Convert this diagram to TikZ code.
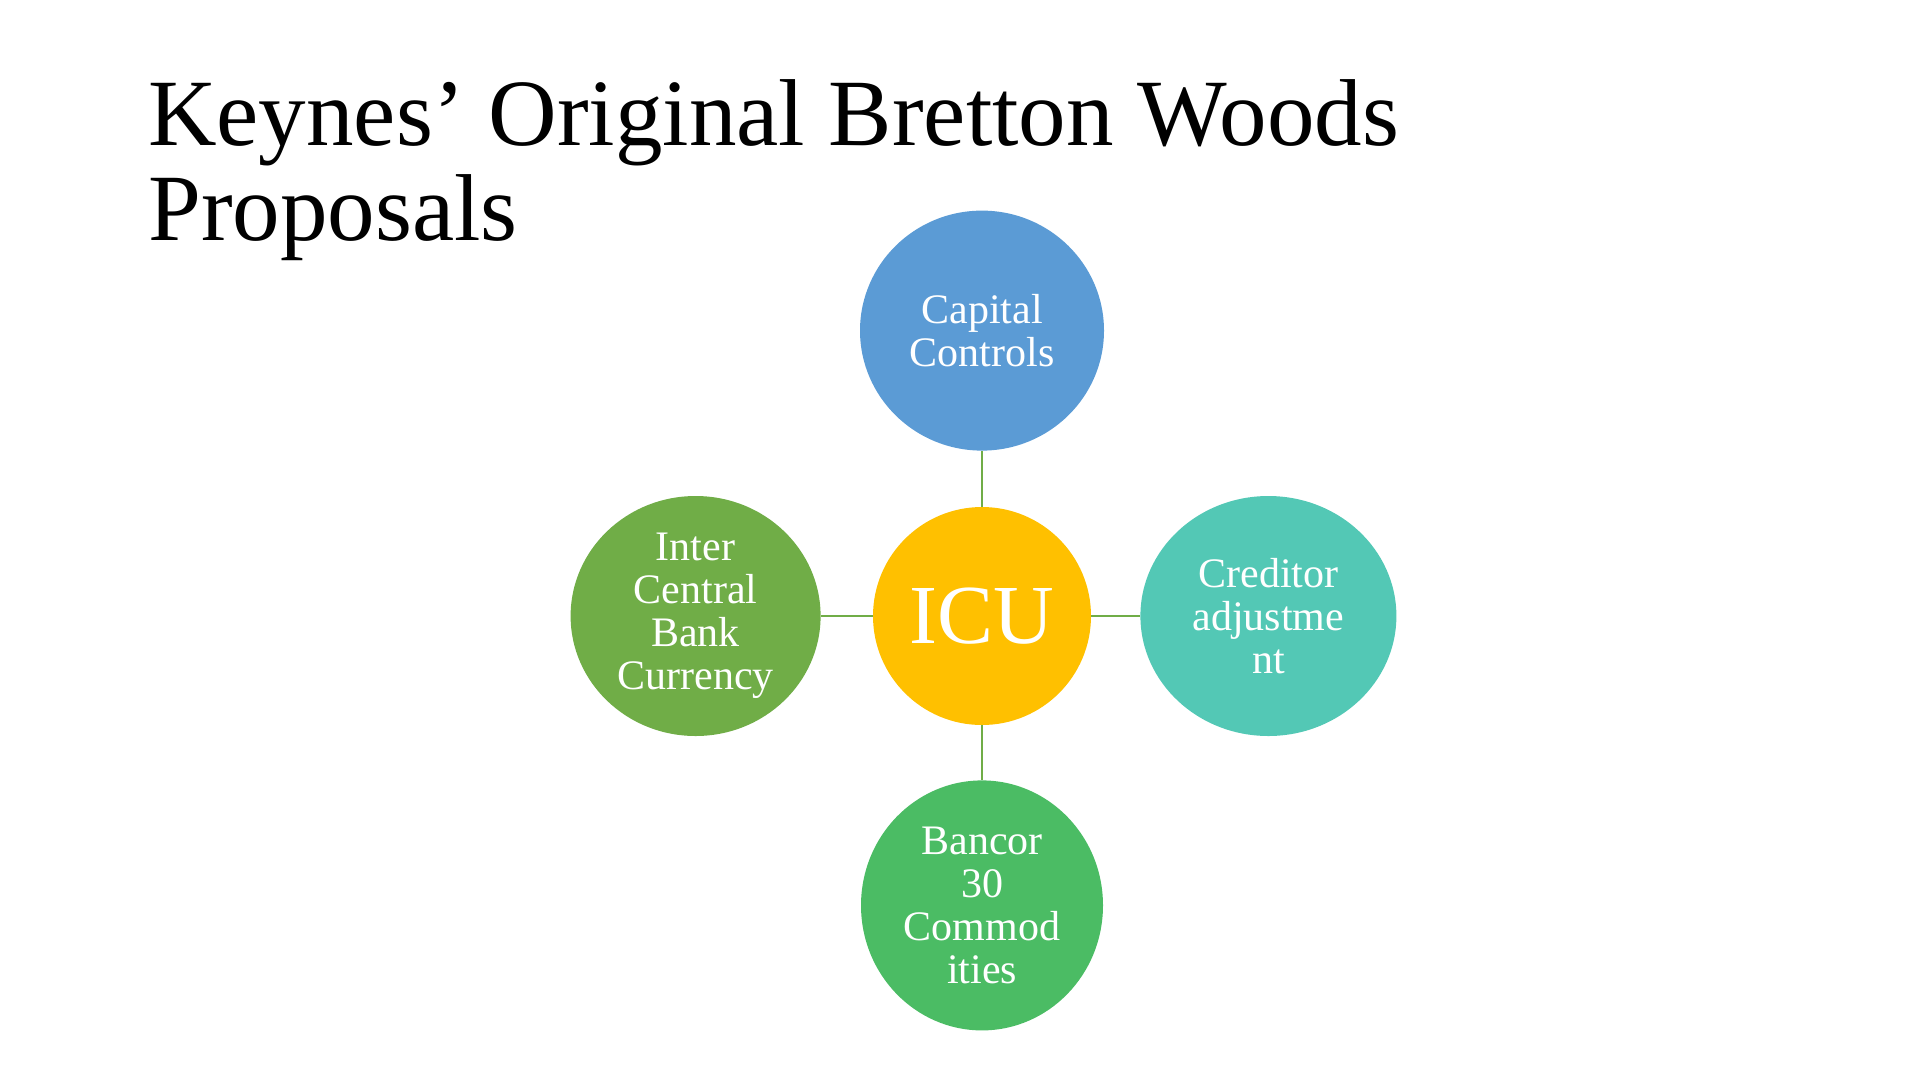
\documentclass[tikz,border=0pt]{standalone}
\usepackage{fontspec}
\setmainfont{Liberation Serif}
\usepackage{tikz}
\usetikzlibrary{positioning, shapes.geometric}
\usepackage{xcolor}
\definecolor{CapBlue}{HTML}{5B9BD5}
\definecolor{IcuGold}{HTML}{FFC000}
\definecolor{LeafGreen}{HTML}{70AD47}
\definecolor{SeaTeal}{HTML}{53C8B5}
\definecolor{MintGreen}{HTML}{4BBC64}
\tikzset{%
  hub/.style={%
    circle,%
    minimum size=218,%
    inner sep=0,%
    fill=IcuGold,%
    text=white,%
    font={\fontsize{84}{84}\selectfont},%
  },
  spoke/.style={%
    ellipse,%
    minimum width=244,%
    minimum height=240,%
    inner sep=0,%
    text=white,%
    align=center,%
    font={\fontsize{42}{43}\selectfont},%
  },
  title_text/.style={%
    inner sep=0,%
    align=left,%
    font={\fontsize{95}{95}\selectfont},%
  },
  link/.style={%
    color=LeafGreen,%
    line width=1.6,%
  },
}
\begin{document}
\begin{tikzpicture}[x=1pt, y=1pt]

    \useasboundingbox (0,0) rectangle (1920,-1080);

    \node [title_text, anchor=north west] (Title) at (148,-79)
      {Keynes’ Original Bretton Woods\\Proposals};

    \node [hub] (ICU) at (982,-616) {ICU};
    \node [spoke, fill=CapBlue, above = 56 of ICU] (Capital) {Capital\\Controls};
    \node [spoke, fill=LeafGreen, minimum width=250, left = 52 of ICU] (Inter)
      {Inter\\Central\\Bank\\Currency};
    \node [spoke, fill=SeaTeal, minimum width=256, right = 49 of ICU] (Creditor)
      {Creditor\\adjustme\\nt};
    \node [spoke, fill=MintGreen, minimum width=242, minimum height=250, below = 55 of ICU] (Bancor)
      {Bancor\\30\\Commod\\ities};

    \draw [link] (ICU) -- (Capital);
    \draw [link] (ICU) -- (Inter);
    \draw [link] (ICU) -- (Creditor);
    \draw [link] (ICU) -- (Bancor);
  \end{tikzpicture}
\end{document}
